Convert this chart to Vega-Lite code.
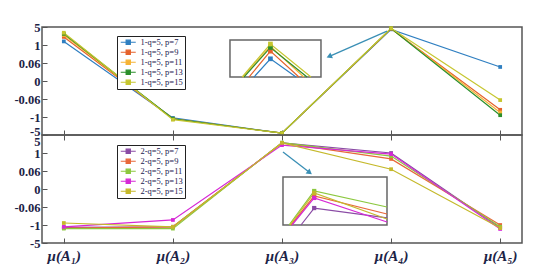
{
  "$schema": "https://vega.github.io/schema/vega-lite/v6.json",
  "background": "white",
  "padding": {"left": 13, "top": 20, "right": 5, "bottom": 5},
  "bounds": "flush",
  "spacing": 0,
  "config": {
    "font": "Liberation Serif",
    "view": {"stroke": "#555555", "strokeWidth": 1.5},
    "axis": {"grid": false, "domain": false, "tickColor": "#555555", "tickWidth": 1, "title": null},
    "legend": {
      "orient": "none", "title": null, "padding": 2, "rowPadding": 0,
      "strokeColor": "#222222", "fillColor": "white",
      "symbolType": "M-2.5,0H2.5M-0.7,-0.7H0.7V0.7H-0.7Z",
      "symbolSize": 36, "symbolStrokeWidth": 1.2, "symbolOffset": 5,
      "labelFont": "Liberation Serif", "labelFontSize": 8.5, "labelColor": "#1c2050", "labelOffset": 8
    }
  },
  "datasets": {
    "top": [
      {"series": "1-q=5, p=7", "mu": "μ(A₁)", "v": 2.2},
      {"series": "1-q=5, p=7", "mu": "μ(A₂)", "v": -2.05},
      {"series": "1-q=5, p=7", "mu": "μ(A₃)", "v": -2.9},
      {"series": "1-q=5, p=7", "mu": "μ(A₄)", "v": 2.87},
      {"series": "1-q=5, p=7", "mu": "μ(A₅)", "v": 0.78},
      {"series": "1-q=5, p=9", "mu": "μ(A₁)", "v": 2.45},
      {"series": "1-q=5, p=9", "mu": "μ(A₂)", "v": -2.1},
      {"series": "1-q=5, p=9", "mu": "μ(A₃)", "v": -2.9},
      {"series": "1-q=5, p=9", "mu": "μ(A₄)", "v": 2.9},
      {"series": "1-q=5, p=9", "mu": "μ(A₅)", "v": -1.6},
      {"series": "1-q=5, p=11", "mu": "μ(A₁)", "v": 2.55},
      {"series": "1-q=5, p=11", "mu": "μ(A₂)", "v": -2.1},
      {"series": "1-q=5, p=11", "mu": "μ(A₃)", "v": -2.9},
      {"series": "1-q=5, p=11", "mu": "μ(A₄)", "v": 2.92},
      {"series": "1-q=5, p=11", "mu": "μ(A₅)", "v": -1.75},
      {"series": "1-q=5, p=13", "mu": "μ(A₁)", "v": 2.62},
      {"series": "1-q=5, p=13", "mu": "μ(A₂)", "v": -2.1},
      {"series": "1-q=5, p=13", "mu": "μ(A₃)", "v": -2.9},
      {"series": "1-q=5, p=13", "mu": "μ(A₄)", "v": 2.92},
      {"series": "1-q=5, p=13", "mu": "μ(A₅)", "v": -1.9},
      {"series": "1-q=5, p=15", "mu": "μ(A₁)", "v": 2.68},
      {"series": "1-q=5, p=15", "mu": "μ(A₂)", "v": -2.15},
      {"series": "1-q=5, p=15", "mu": "μ(A₃)", "v": -2.9},
      {"series": "1-q=5, p=15", "mu": "μ(A₄)", "v": 2.93},
      {"series": "1-q=5, p=15", "mu": "μ(A₅)", "v": -1.06}
    ],
    "bottom": [
      {"series": "2-q=5, p=7", "mu": "μ(A₁)", "v": -2.13},
      {"series": "2-q=5, p=7", "mu": "μ(A₂)", "v": -2.1},
      {"series": "2-q=5, p=7", "mu": "μ(A₃)", "v": 2.56},
      {"series": "2-q=5, p=7", "mu": "μ(A₄)", "v": 2.0},
      {"series": "2-q=5, p=7", "mu": "μ(A₅)", "v": -2.15},
      {"series": "2-q=5, p=9", "mu": "μ(A₁)", "v": -2.17},
      {"series": "2-q=5, p=9", "mu": "μ(A₂)", "v": -2.1},
      {"series": "2-q=5, p=9", "mu": "μ(A₃)", "v": 2.56},
      {"series": "2-q=5, p=9", "mu": "μ(A₄)", "v": 1.67},
      {"series": "2-q=5, p=9", "mu": "μ(A₅)", "v": -2.0},
      {"series": "2-q=5, p=11", "mu": "μ(A₁)", "v": -2.2},
      {"series": "2-q=5, p=11", "mu": "μ(A₂)", "v": -2.2},
      {"series": "2-q=5, p=11", "mu": "μ(A₃)", "v": 2.58},
      {"series": "2-q=5, p=11", "mu": "μ(A₄)", "v": 1.83},
      {"series": "2-q=5, p=11", "mu": "μ(A₅)", "v": -2.1},
      {"series": "2-q=5, p=13", "mu": "μ(A₁)", "v": -2.1},
      {"series": "2-q=5, p=13", "mu": "μ(A₂)", "v": -1.72},
      {"series": "2-q=5, p=13", "mu": "μ(A₃)", "v": 2.44},
      {"series": "2-q=5, p=13", "mu": "μ(A₄)", "v": 1.94},
      {"series": "2-q=5, p=13", "mu": "μ(A₅)", "v": -2.22},
      {"series": "2-q=5, p=15", "mu": "μ(A₁)", "v": -1.89},
      {"series": "2-q=5, p=15", "mu": "μ(A₂)", "v": -2.1},
      {"series": "2-q=5, p=15", "mu": "μ(A₃)", "v": 2.56},
      {"series": "2-q=5, p=15", "mu": "μ(A₄)", "v": 1.1},
      {"series": "2-q=5, p=15", "mu": "μ(A₅)", "v": -2.17}
    ],
    "topInset": [
      {"series": "1-q=5, p=7", "o": 1, "ix": 3.837, "iy": 2.8},
      {"series": "1-q=5, p=7", "o": 2, "ix": 4.0, "iy": 2.874},
      {"series": "1-q=5, p=7", "o": 3, "ix": 4.253, "iy": 2.8},
      {"series": "1-q=5, p=9", "o": 1, "ix": 3.788, "iy": 2.8},
      {"series": "1-q=5, p=9", "o": 2, "ix": 4.0, "iy": 2.905},
      {"series": "1-q=5, p=9", "o": 3, "ix": 4.282, "iy": 2.8},
      {"series": "1-q=5, p=11", "o": 1, "ix": 3.728, "iy": 2.8},
      {"series": "1-q=5, p=11", "o": 2, "ix": 4.0, "iy": 2.925},
      {"series": "1-q=5, p=11", "o": 3, "ix": 4.33, "iy": 2.8},
      {"series": "1-q=5, p=13", "o": 1, "ix": 3.738, "iy": 2.8},
      {"series": "1-q=5, p=13", "o": 2, "ix": 4.0, "iy": 2.92},
      {"series": "1-q=5, p=13", "o": 3, "ix": 4.362, "iy": 2.8},
      {"series": "1-q=5, p=15", "o": 1, "ix": 3.719, "iy": 2.8},
      {"series": "1-q=5, p=15", "o": 2, "ix": 4.0, "iy": 2.934},
      {"series": "1-q=5, p=15", "o": 3, "ix": 4.401, "iy": 2.8}
    ],
    "bottomInset": [
      {"series": "2-q=5, p=7", "o": 1, "ix": 2.873, "iy": 2.3},
      {"series": "2-q=5, p=7", "o": 2, "ix": 3.0, "iy": 2.406},
      {"series": "2-q=5, p=7", "o": 3, "ix": 3.7, "iy": 2.344},
      {"series": "2-q=5, p=9", "o": 1, "ix": 2.777, "iy": 2.3},
      {"series": "2-q=5, p=9", "o": 2, "ix": 3.0, "iy": 2.481},
      {"series": "2-q=5, p=9", "o": 3, "ix": 3.7, "iy": 2.369},
      {"series": "2-q=5, p=11", "o": 1, "ix": 2.758, "iy": 2.3},
      {"series": "2-q=5, p=11", "o": 2, "ix": 3.0, "iy": 2.5125},
      {"series": "2-q=5, p=11", "o": 3, "ix": 3.7, "iy": 2.4125},
      {"series": "2-q=5, p=13", "o": 1, "ix": 2.787, "iy": 2.3},
      {"series": "2-q=5, p=13", "o": 2, "ix": 3.0, "iy": 2.469},
      {"series": "2-q=5, p=13", "o": 3, "ix": 3.7, "iy": 2.319},
      {"series": "2-q=5, p=15", "o": 1, "ix": 2.767, "iy": 2.3},
      {"series": "2-q=5, p=15", "o": 2, "ix": 3.0, "iy": 2.5},
      {"series": "2-q=5, p=15", "o": 3, "ix": 3.7, "iy": 2.3375}
    ],
    "topBox": [{"ix": 3.6, "ix2": 4.5, "iy": 2.8, "iy2": 2.95}],
    "bottomBox": [{"ix": 2.7, "ix2": 3.7, "iy": 2.3, "iy2": 2.6}],
    "topArrow": [{"ix": 5.153, "iy": 2.986, "ix2": 4.589, "iy2": 2.885}],
    "bottomArrow": [{"ix": 2.7, "iy": 2.756, "ix2": 2.95, "iy2": 2.631}]
  },
  "resolve": {"scale": {"color": "independent"}, "legend": {"color": "independent"}},
  "vconcat": [
    {
      "width": 480, "height": 108,
      "resolve": {"scale": {"x": "independent", "y": "independent"}},
      "layer": [
        {
          "data": {"name": "top"},
          "encoding": {
            "x": {"field": "mu", "type": "nominal", "sort": ["μ(A₁)", "μ(A₂)", "μ(A₃)", "μ(A₄)", "μ(A₅)"], "scale": {"type": "point", "padding": 0.2},
              "axis": {"orient": "bottom", "labels": false, "tickSize": -5}},
            "y": {"field": "v", "type": "quantitative", "scale": {"domain": [-3, 3], "nice": false, "zero": false},
              "axis": {"values": [-3, -2, -1, 0, 1, 2, 3], "tickSize": -5, "labelPadding": 7, "labelOverlap": false,
                "labelExpr": "datum.value==3?'5':datum.value==2?'1':datum.value==1?'0.06':datum.value==0?'0':datum.value==-1?'-0.06':datum.value==-2?'-1':'-5'",
                "labelFont": "Liberation Serif", "labelFontSize": 12.5, "labelFontWeight": "bold", "labelColor": "#1c2346",
                "labelOffset": {"condition": {"test": "datum.value == -3", "value": -3.5}, "value": 0}}},
            "color": {"field": "series", "type": "nominal", "sort": ["1-q=5, p=7", "1-q=5, p=9", "1-q=5, p=11", "1-q=5, p=13", "1-q=5, p=15"],
              "scale": {"domain": ["1-q=5, p=7", "1-q=5, p=9", "1-q=5, p=11", "1-q=5, p=13", "1-q=5, p=15"], "range": ["#2f7fc1", "#e5622b", "#f5b335", "#2b8f2b", "#c6c62f"]},
              "legend": {"legendX": 75, "legendY": 9}}
          },
          "layer": [
            {"mark": {"type": "line", "strokeWidth": 1.2}},
            {"mark": {"type": "point", "shape": "square", "filled": true, "size": 14, "opacity": 1}}
          ]
        },
        {
          "encoding": {
            "x": {"field": "ix", "type": "quantitative", "scale": {"domain": [1.741, 6.488], "nice": false, "zero": false}, "axis": null},
            "y": {"field": "iy", "type": "quantitative", "scale": {"domain": [2.565, 3.003], "nice": false, "zero": false}, "axis": null}
          },
          "layer": [
            {"data": {"name": "topBox"}, "mark": {"type": "rect", "fill": "white", "stroke": "#666666", "strokeWidth": 1.5},
              "encoding": {"x2": {"field": "ix2"}, "y2": {"field": "iy2"}}},
            {"data": {"name": "topInset"}, "mark": {"type": "line", "strokeWidth": 1.2},
              "encoding": {"order": {"field": "o"},
                "color": {"field": "series", "type": "nominal", "sort": ["1-q=5, p=7", "1-q=5, p=9", "1-q=5, p=11", "1-q=5, p=13", "1-q=5, p=15"],
                  "scale": {"domain": ["1-q=5, p=7", "1-q=5, p=9", "1-q=5, p=11", "1-q=5, p=13", "1-q=5, p=15"], "range": ["#2f7fc1", "#e5622b", "#f5b335", "#2b8f2b", "#c6c62f"]},
                  "legend": {"legendX": 75, "legendY": 9}}}},
            {"data": {"name": "topInset"}, "transform": [{"filter": "datum.o == 2"}], "mark": {"type": "point", "shape": "square", "filled": true, "size": 22, "opacity": 1},
              "encoding": {
                "color": {"field": "series", "type": "nominal", "sort": ["1-q=5, p=7", "1-q=5, p=9", "1-q=5, p=11", "1-q=5, p=13", "1-q=5, p=15"],
                  "scale": {"domain": ["1-q=5, p=7", "1-q=5, p=9", "1-q=5, p=11", "1-q=5, p=13", "1-q=5, p=15"], "range": ["#2f7fc1", "#e5622b", "#f5b335", "#2b8f2b", "#c6c62f"]},
                  "legend": {"legendX": 75, "legendY": 9}}}},
            {"data": {"name": "topArrow"}, "mark": {"type": "rule", "color": "#3a8fb5", "strokeWidth": 1.3},
              "encoding": {"x2": {"field": "ix2"}, "y2": {"field": "iy2"}}},
            {"data": {"name": "topArrow"}, "mark": {"type": "point", "shape": "triangle", "filled": true, "color": "#3a8fb5", "size": 40, "angle": 246, "opacity": 1},
              "encoding": {"x": {"field": "ix2", "type": "quantitative"}, "y": {"field": "iy2", "type": "quantitative"}}}
          ]
        }
      ]
    },
    {
      "width": 480, "height": 108,
      "resolve": {"scale": {"x": "independent", "y": "independent"}},
      "layer": [
        {
          "data": {"name": "bottom"},
          "resolve": {"axis": {"x": "independent"}},
          "encoding": {
            "y": {"field": "v", "type": "quantitative", "scale": {"domain": [-3, 3], "nice": false, "zero": false},
              "axis": {"values": [-3, -2, -1, 0, 1, 2, 3], "tickSize": -5, "labelPadding": 7, "labelOverlap": false,
                "labelExpr": "datum.value==3?'5':datum.value==2?'1':datum.value==1?'0.06':datum.value==0?'0':datum.value==-1?'-0.06':datum.value==-2?'-1':'-5'",
                "labelFont": "Liberation Serif", "labelFontSize": 12.5, "labelFontWeight": "bold", "labelColor": "#1c2346",
                "labelOffset": {"condition": {"test": "datum.value == 3", "value": 6}, "value": 0}}},
            "color": {"field": "series", "type": "nominal", "sort": ["2-q=5, p=7", "2-q=5, p=9", "2-q=5, p=11", "2-q=5, p=13", "2-q=5, p=15"],
              "scale": {"domain": ["2-q=5, p=7", "2-q=5, p=9", "2-q=5, p=11", "2-q=5, p=13", "2-q=5, p=15"], "range": ["#8a4ba5", "#e8683a", "#8cc83f", "#d629d6", "#c5b92a"]},
              "legend": {"legendX": 75, "legendY": 10}}
          },
          "layer": [
            {"mark": {"type": "line", "strokeWidth": 1.2},
              "encoding": {"x": {"field": "mu", "type": "nominal", "sort": ["μ(A₁)", "μ(A₂)", "μ(A₃)", "μ(A₄)", "μ(A₅)"], "scale": {"type": "point", "padding": 0.2},
                "axis": {"orient": "bottom", "tickSize": -5, "labelPadding": 10, "labelAngle": 0, "labelFont": "Liberation Serif", "labelFontSize": 15, "labelFontWeight": "bold", "labelFontStyle": "italic", "labelColor": "#1c2346"}}}},
            {"mark": {"type": "point", "shape": "square", "filled": true, "size": 14, "opacity": 1},
              "encoding": {"x": {"field": "mu", "type": "nominal", "sort": ["μ(A₁)", "μ(A₂)", "μ(A₃)", "μ(A₄)", "μ(A₅)"], "scale": {"type": "point", "padding": 0.2},
                "axis": {"orient": "top", "labels": false, "tickSize": -5}}}}
          ]
        },
        {
          "encoding": {
            "x": {"field": "ix", "type": "quantitative", "scale": {"domain": [0.383, 4.998], "nice": false, "zero": false}, "axis": null},
            "y": {"field": "iy", "type": "quantitative", "scale": {"domain": [2.1875, 2.8625], "nice": false, "zero": false}, "axis": null}
          },
          "layer": [
            {"data": {"name": "bottomBox"}, "mark": {"type": "rect", "fill": "white", "stroke": "#666666", "strokeWidth": 1.5},
              "encoding": {"x2": {"field": "ix2"}, "y2": {"field": "iy2"}}},
            {"data": {"name": "bottomInset"}, "mark": {"type": "line", "strokeWidth": 1.2},
              "encoding": {"order": {"field": "o"},
                "color": {"field": "series", "type": "nominal", "sort": ["2-q=5, p=7", "2-q=5, p=9", "2-q=5, p=11", "2-q=5, p=13", "2-q=5, p=15"],
                  "scale": {"domain": ["2-q=5, p=7", "2-q=5, p=9", "2-q=5, p=11", "2-q=5, p=13", "2-q=5, p=15"], "range": ["#8a4ba5", "#e8683a", "#8cc83f", "#d629d6", "#c5b92a"]},
                  "legend": {"legendX": 75, "legendY": 10}}}},
            {"data": {"name": "bottomInset"}, "transform": [{"filter": "datum.o == 2"}], "mark": {"type": "point", "shape": "square", "filled": true, "size": 18, "opacity": 1},
              "encoding": {
                "color": {"field": "series", "type": "nominal", "sort": ["2-q=5, p=7", "2-q=5, p=9", "2-q=5, p=11", "2-q=5, p=13", "2-q=5, p=15"],
                  "scale": {"domain": ["2-q=5, p=7", "2-q=5, p=9", "2-q=5, p=11", "2-q=5, p=13", "2-q=5, p=15"], "range": ["#8a4ba5", "#e8683a", "#8cc83f", "#d629d6", "#c5b92a"]},
                  "legend": {"legendX": 75, "legendY": 10}}}},
            {"data": {"name": "bottomArrow"}, "mark": {"type": "rule", "color": "#3a8fb5", "strokeWidth": 1.3},
              "encoding": {"x2": {"field": "ix2"}, "y2": {"field": "iy2"}}},
            {"data": {"name": "bottomArrow"}, "mark": {"type": "point", "shape": "triangle", "filled": true, "color": "#3a8fb5", "size": 40, "angle": 128, "opacity": 1},
              "encoding": {"x": {"field": "ix2", "type": "quantitative"}, "y": {"field": "iy2", "type": "quantitative"}}}
          ]
        }
      ]
    }
  ]
}
